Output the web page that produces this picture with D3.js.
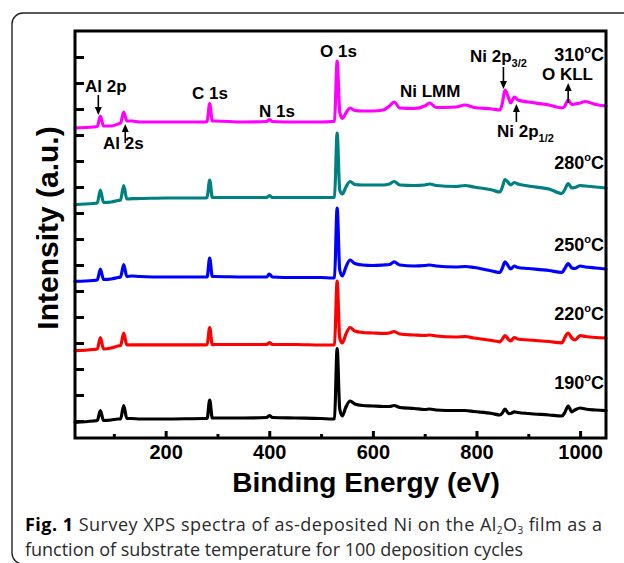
<!DOCTYPE html>
<html>
<head>
<meta charset="utf-8">
<script src="https://cdn.jsdelivr.net/npm/d3@7"></script>
<style>
  html, body { margin: 0; padding: 0; background: #fff; }
  svg { display: block; }
</style>
</head>
<body>
<svg id="chart" width="624" height="563"></svg>
<script>
// Binding energy grid (eV) shared by all survey spectra
const energy = [25, 60, 68, 74, 80, 95, 108, 113, 119, 125,
  135, 150, 200, 275, 280, 285, 290, 295, 350, 395,
  400, 406, 450, 500, 522, 526, 531, 536, 541, 548,
  556, 565, 580, 600, 620, 632, 641, 652, 680, 700,
  710, 722, 760, 778, 795, 830, 845, 850, 855, 862,
  866, 873, 880, 900, 940, 965, 970, 977, 984, 990,
  1000, 1010, 1030, 1050];

// Substrate temperatures (labels) and the stacked, offset intensities (a.u.)
const temperatures = ["190", "220", "250", "280", "310"];

const spectrum190 = [24.5, 26, 26.5, 36.3, 26.5, 27, 28, 28, 41.3, 28.5,
  28.5, 28, 28, 28.5, 28.5, 47, 29, 29, 29, 29.5,
  31.5, 29.5, 29, 28.5, 28, 28.5, 98.4, 38, 31, 40,
  46, 43, 41.5, 41, 40.5, 40.5, 41.5, 39.5, 38.5, 37.5,
  38, 37, 36.5, 36.5, 35.5, 33.5, 32, 34, 38, 33.4,
  33.5, 35.2, 34.5, 33.5, 32, 31, 34, 41, 35.2, 37,
  39, 38, 37, 36.3];

const spectrum220 = [96.3, 97.5, 98, 109.5, 98, 99, 101, 101.5, 114, 102,
  102.2, 102.2, 102.2, 102.2, 102.4, 119.5, 102.4, 102.5, 102.5, 102.5,
  104.5, 102.5, 102.5, 102, 102, 102.5, 166, 109, 104, 113,
  119.5, 116, 114.5, 114, 113.5, 114, 115.5, 113, 112, 111.5,
  112, 111, 110, 110.5, 109, 106.5, 105.2, 108, 111.3, 107.5,
  106, 109.5, 108, 107, 105.5, 104.2, 109, 114, 109, 107,
  111.3, 110.5, 109.5, 109];

const spectrum250 = [165.6, 166.5, 167, 178, 167.5, 168, 169.5, 170, 182.5, 170.5,
  171, 170.5, 170, 170, 170, 189, 170.5, 170.5, 170, 170,
  173, 170, 169.5, 169.5, 169, 169.5, 239, 177, 171, 180,
  187, 183.5, 182, 181.5, 182, 182.5, 185.2, 182, 181, 181.5,
  182, 181, 180, 180.5, 179.5, 176, 174.5, 179, 185.2, 180.5,
  178, 181, 179.5, 178.5, 176.5, 174.5, 178, 183.4, 179, 178.5,
  181, 180, 179, 178];

const spectrum280 = [242.4, 243.5, 244, 257, 244.5, 245, 246.5, 247, 261.3, 248,
  248.4, 248.5, 249, 249, 249.5, 267, 249.5, 249.5, 249.5, 249.5,
  251.5, 249.5, 249.5, 249.5, 249.5, 250, 314, 257, 253, 260,
  265.5, 262.5, 262, 262, 262, 263, 265.5, 262, 261.5, 262,
  263, 261.5, 260.5, 261.5, 260, 257, 255, 260, 267.5, 264,
  262, 264.5, 263, 261, 258, 253.5, 257, 263.5, 259, 259.5,
  261.5, 261, 260, 259];

const spectrum310 = [319, 320, 320.5, 331, 321, 321, 323, 324, 335, 326,
  326, 325, 325, 325, 325.5, 343.5, 326, 326, 325, 325.5,
  327.5, 325.5, 325, 325, 325.5, 326, 386, 335, 328.5, 334,
  339, 336.5, 336, 336, 337, 341, 345, 339, 338.5, 341,
  344, 339.5, 340, 342, 339.5, 338, 337, 344, 357, 349,
  344, 350, 347, 345, 342, 339, 340.5, 347, 342.5, 343,
  344, 345.5, 342.5, 341];

const spectra = [spectrum190, spectrum220, spectrum250, spectrum280, spectrum310];
const traceColors = ["#000000", "#ff0000", "#0000ff", "#008080", "#ff00ff"];

// Axis ticks
const xMajorTicks = [200, 400, 600, 800, 1000];
const xMinorTicks = [100, 300, 500, 700, 900];
const yTicks = d3.range(26, 391, 26);

// Layout
const plot = { left: 75, right: 606, top: 31, bottom: 438 };
const boldFont = "'Liberation Sans', Arial, sans-serif";

const svg = d3.select("#chart");

// Rounded figure panel
svg.append("rect")
  .attr("x", 12).attr("y", 13)
  .attr("width", 640).attr("height", 551)
  .attr("rx", 11).attr("ry", 11)
  .attr("fill", "none")
  .attr("stroke", "#222")
  .attr("stroke-width", 1.4);

const x = d3.scaleLinear().domain([25, 1050]).range([plot.left, plot.right]);
const y = d3.scaleLinear().domain([9, 416]).range([plot.bottom, plot.top]);

// Spectra
const line = d3.line()
  .x(d => x(d[0]))
  .y(d => y(d[1]))
  .curve(d3.curveMonotoneX);

spectra.forEach((vals, i) => {
  svg.append("path")
    .datum(energy.map((e, j) => [e, vals[j]]))
    .attr("d", line)
    .attr("fill", "none")
    .attr("stroke", traceColors[i])
    .attr("stroke-width", 3.2)
    .attr("stroke-linejoin", "round")
    .attr("stroke-linecap", "round");
});

// Axes (ticks point inward)
const yAxis = svg.append("g")
  .attr("transform", `translate(${plot.left},0)`)
  .call(d3.axisLeft(y).tickValues(yTicks).tickSizeInner(-9).tickSizeOuter(0).tickFormat(""));
yAxis.select(".domain").remove();
yAxis.selectAll("line").attr("stroke", "#000").attr("stroke-width", 3);

const xAxis = svg.append("g")
  .attr("transform", `translate(0,${plot.bottom})`)
  .call(d3.axisBottom(x).tickValues(xMajorTicks).tickSizeInner(-7).tickSizeOuter(0)
    .tickPadding(7).tickFormat(d3.format("d")));
xAxis.select(".domain").remove();
xAxis.selectAll("line").attr("stroke", "#000").attr("stroke-width", 3);
xAxis.selectAll("text")
  .attr("font-family", boldFont)
  .attr("font-weight", "bold")
  .attr("font-size", 20)
  .attr("fill", "#000");

const xMinor = svg.append("g")
  .attr("transform", `translate(0,${plot.bottom})`)
  .call(d3.axisBottom(x).tickValues(xMinorTicks).tickSizeInner(-4).tickSizeOuter(0).tickFormat(""));
xMinor.select(".domain").remove();
xMinor.selectAll("line").attr("stroke", "#000").attr("stroke-width", 3);

// Plot frame
svg.append("rect")
  .attr("x", plot.left).attr("y", plot.top)
  .attr("width", plot.right - plot.left)
  .attr("height", plot.bottom - plot.top)
  .attr("fill", "none")
  .attr("stroke", "#000")
  .attr("stroke-width", 3);

// Axis titles
svg.append("text")
  .attr("x", 366).attr("y", 492)
  .attr("text-anchor", "middle")
  .attr("font-family", boldFont).attr("font-weight", "bold").attr("font-size", 28)
  .text("Binding Energy (eV)");

svg.append("text")
  .attr("transform", "translate(58,228) rotate(-90)")
  .attr("text-anchor", "middle")
  .attr("font-family", boldFont).attr("font-weight", "bold").attr("font-size", 30)
  .text("Intensity (a.u.)");

// Temperature labels, anchored above the right end of each trace
const labelLift = [22, 18, 18, 19, 45];
spectra.forEach((vals, i) => {
  const t = svg.append("text")
    .attr("x", 604)
    .attr("y", y(vals[vals.length - 1]) - labelLift[i])
    .attr("text-anchor", "end")
    .attr("font-family", boldFont).attr("font-weight", "bold").attr("font-size", 18);
  t.append("tspan").text(temperatures[i]);
  t.append("tspan").attr("font-size", 11).attr("dy", -8).text("o");
  t.append("tspan").attr("dy", 8).text("C");
});

// Peak annotations
const notes = [
  { text: "Al 2p", x: 85, y: 92 },
  { text: "Al 2s", x: 103, y: 149 },
  { text: "C 1s", x: 192, y: 98.5 },
  { text: "N 1s", x: 259, y: 117 },
  { text: "O 1s", x: 320, y: 56.5 },
  { text: "Ni LMM", x: 400, y: 96.5 },
  { text: "Ni 2p", sub: "3/2", x: 470, y: 62 },
  { text: "Ni 2p", sub: "1/2", x: 497, y: 136.5 },
  { text: "O KLL", x: 542, y: 80 }
];
notes.forEach(n => {
  const t = svg.append("text")
    .attr("x", n.x).attr("y", n.y)
    .attr("font-family", boldFont).attr("font-weight", "bold").attr("font-size", 17);
  t.append("tspan").text(n.text);
  if (n.sub) t.append("tspan").attr("font-size", 11).attr("dy", 5).text(n.sub);
});

// Arrows pointing at the labelled peaks (energy, tail y, tip y)
const arrows = [
  { eV: 70, from: 95, to: 115 },
  { eV: 122, from: 143, to: 124 },
  { eV: 852, from: 67, to: 89 },
  { eV: 877, from: 122, to: 104 },
  { eV: 977, from: 103, to: 83 }
];
arrows.forEach(a => {
  const ax = x(a.eV);
  const dir = a.to > a.from ? 1 : -1;
  svg.append("line")
    .attr("x1", ax).attr("x2", ax)
    .attr("y1", a.from).attr("y2", a.to - dir * 6)
    .attr("stroke", "#000").attr("stroke-width", 1.6);
  svg.append("path")
    .attr("d", `M${ax},${a.to} L${ax - 3.5},${a.to - dir * 8} L${ax + 3.5},${a.to - dir * 8} Z`)
    .attr("fill", "#000");
});

// Caption
const capFont = "'Open Sans', 'Noto Sans', sans-serif";
const cap1 = svg.append("text")
  .attr("x", 25).attr("y", 531)
  .attr("font-family", capFont).attr("font-size", 18).attr("fill", "#2a2a2a")
  .attr("textLength", 577).attr("lengthAdjust", "spacing");
cap1.append("tspan").attr("font-weight", "bold").attr("fill", "#000").text("Fig. 1");
cap1.append("tspan").text(" Survey XPS spectra of as-deposited Ni on the Al");
cap1.append("tspan").attr("font-size", 10).attr("dy", 2.5).text("2");
cap1.append("tspan").attr("dy", -2.5).text("O");
cap1.append("tspan").attr("font-size", 10).attr("dy", 2.5).text("3");
cap1.append("tspan").attr("dy", -2.5).text(" film as a");

svg.append("text")
  .attr("x", 25).attr("y", 556)
  .attr("font-family", capFont).attr("font-size", 18).attr("fill", "#2a2a2a")
  .attr("textLength", 498).attr("lengthAdjust", "spacing")
  .text("function of substrate temperature for 100 deposition cycles");
</script>
</body>
</html>
